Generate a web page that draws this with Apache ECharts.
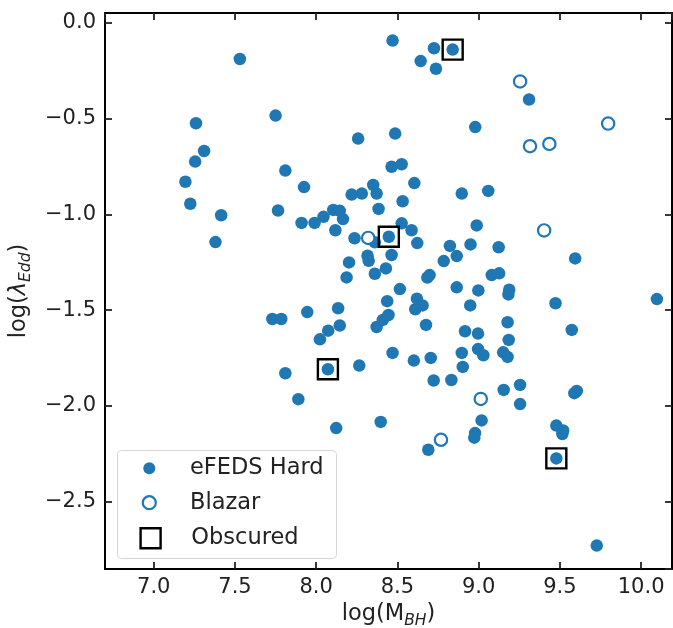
<!DOCTYPE html>
<html>
<head>
<meta charset="utf-8">
<title>eFEDS Hard: log(M_BH) vs log(lambda_Edd)</title>
<script src="https://cdn.jsdelivr.net/npm/echarts@6/dist/echarts.min.js"></script>
<style>
  html, body { margin: 0; padding: 0; background: #fff; }
  #main { width: 673px; height: 628px; }
</style>
</head>
<body>
<div id="main"></div>
<script>
// eFEDS Hard sample (filled circles)
const hardMass = [
  7.53, 7.26, 7.31, 7.255, 7.195, 7.225, 7.415, 7.38, 7.75, 7.81,
  7.765, 7.925, 7.91, 7.99, 8.045, 8.105, 8.145, 8.165, 8.118, 7.945,
  7.73, 7.785, 8.135, 8.074, 8.023, 8.145, 8.072, 7.81, 7.89, 8.123,
  8.265, 8.397, 8.47, 8.601, 8.372, 8.41, 8.445, 8.437, 8.61, 8.62,
  8.655, 8.218, 8.281, 8.351, 8.372, 8.384, 8.464, 8.526, 8.604, 8.532,
  8.526, 8.587, 8.622, 8.236, 8.361, 8.447, 8.464, 8.316, 8.323, 8.202,
  8.429, 8.361, 8.187, 8.515, 8.47, 8.725, 8.84, 8.643, 8.737, 9.31,
  8.979, 8.486, 8.258, 8.896, 9.059, 8.988, 8.823, 8.95, 9.123, 8.865,
  8.785, 9.594, 8.684, 8.698, 9.08, 9.126, 8.865, 8.998, 9.188, 9.183,
  10.097, 9.473, 8.948, 8.676, 8.916, 8.996, 9.178, 9.185, 9.573, 8.705,
  8.896, 8.996, 9.029, 9.151, 9.178, 8.902, 8.723, 8.832, 9.154, 9.255,
  9.255, 9.589, 9.604, 9.018, 8.978, 8.973, 8.69, 9.478, 9.52, 9.515,
  9.478, 9.727
];
const hardEdd = [
  -0.19, -0.525, -0.67, -0.725, -0.83, -0.945, -1.005, -1.145, -0.485, -0.772,
  -0.98, -0.858, -1.045, -1.045, -1.013, -0.977, -0.982, -1.025, -1.083, -1.51,
  -1.546, -1.546, -1.49, -1.607, -1.652, -1.58, -1.808, -1.829, -1.964, -2.115,
  -1.789, -2.083, -1.723, -1.763, -1.588, -1.551, -1.525, -1.453, -1.495, -1.44,
  -1.475, -0.897, -0.892, -0.847, -0.892, -0.972, -0.752, -0.739, -0.837, -0.932,
  -1.047, -1.083, -1.15, -1.125, -1.146, -1.117, -1.212, -1.216, -1.242, -1.251,
  -1.282, -1.31, -1.329, -1.39, -0.094, -0.134, -0.141, -0.201, -0.241, -0.401,
  -0.545, -0.579, -0.605, -0.892, -0.878, -1.058, -1.165, -1.157, -1.172, -1.218,
  -1.244, -1.23, -1.33, -1.317, -1.317, -1.308, -1.381, -1.397, -1.393, -1.418,
  -1.442, -1.464, -1.475, -1.577, -1.61, -1.622, -1.563, -1.655, -1.603, -1.749,
  -1.723, -1.703, -1.735, -1.72, -1.744, -1.796, -1.867, -1.864, -1.916, -1.89,
  -1.99, -1.933, -1.921, -2.075, -2.141, -2.165, -2.228, -2.102, -2.127, -2.146,
  -2.273, -2.728
];

// blazars (open circles)
const blazarMass = [9.255, 9.797, 9.316, 9.435, 8.32, 9.403, 9.013, 8.768];
const blazarEdd = [-0.307, -0.527, -0.645, -0.633, -1.123, -1.084, -1.963, -2.176];

// obscured sources (squares)
const obscuredMass = [8.84, 8.447, 8.072, 9.478];
const obscuredEdd = [-0.141, -1.117, -1.808, -2.273];

const xRange = [6.7, 10.19];
const yRange = [-2.85, 0.05];

const blue = '#1f77b4';
const ink = '#222';
const font = 'DejaVu Sans';

function pairs (xs, ys) {
  return xs.map((x, i) => [x, ys[i]]);
}

function tickLabel (v) {
  return (v < 0 ? '\u2212' : '') + Math.abs(v).toFixed(1);
}

const nameRich = {
  n: { fontSize: 22.5, fontFamily: font, color: ink, lineHeight: 26, verticalAlign: 'top', padding: [0, 0, 1, 0] },
  i: { fontSize: 22.5, fontFamily: font, fontStyle: 'italic', color: ink, lineHeight: 26, verticalAlign: 'top', padding: [0, 0, 1, 0] },
  s: { fontSize: 15.5, fontFamily: font, fontStyle: 'italic', color: ink, lineHeight: 17, verticalAlign: 'bottom' }
};

function axisBase (pos, showLabel) {
  return {
    type: 'value',
    position: pos,
    axisLine: { onZero: false, lineStyle: { color: '#000', width: 2 } },
    axisTick: { inside: true, length: 7, lineStyle: { color: ink, width: 1.8 } },
    axisLabel: {
      show: showLabel,
      showMinLabel: false,
      showMaxLabel: false,
      fontFamily: font,
      fontSize: 21,
      color: ink,
      formatter: tickLabel
    },
    splitLine: { show: false }
  };
}

const xBottom = Object.assign(axisBase('bottom', true), {
  min: xRange[0], max: xRange[1], splitNumber: 7,
  name: '{n|log(M}{s|BH}{n|)}',
  nameLocation: 'middle',
  nameGap: 33,
  nameTextStyle: { rich: nameRich }
});
xBottom.axisLabel.margin = 8;
const xTop = Object.assign(axisBase('top', false), { min: xRange[0], max: xRange[1], splitNumber: 7 });

const yLeft = Object.assign(axisBase('left', true), {
  min: yRange[0], max: yRange[1], splitNumber: 6,
  name: '{n|log(}{i|λ}{s|Edd}{n|)}',
  nameLocation: 'middle',
  nameGap: 68,
  nameRotate: 90,
  nameTextStyle: { rich: nameRich }
});
yLeft.axisLabel.margin = 9;
const yRight = Object.assign(axisBase('right', false), { min: yRange[0], max: yRange[1], splitNumber: 6 });

const legendText = { fontFamily: font, fontSize: 22.5, color: ink, lineHeight: 24 };

// legend is placed by its visible box, so left is the icon's left edge
function legendRow (name, left, top, icon, h, style) {
  return {
    data: [{ name: name, icon: icon, itemStyle: style }],
    left: left,
    top: top,
    padding: 0,
    itemWidth: 71.4,
    itemHeight: h,
    symbolKeepAspect: true,
    selectedMode: false,
    textStyle: legendText
  };
}

const option = {
  animation: false,
  grid: { left: 105, right: 1, top: 13, bottom: 59, containLabel: false, outerBoundsMode: 'none' },
  xAxis: [xBottom, xTop],
  yAxis: [yLeft, yRight],
  graphic: [{
    type: 'rect',
    z: 3,
    shape: { x: 117.5, y: 450.5, width: 219, height: 108, r: 4 },
    style: { fill: 'rgba(255,255,255,0.8)', stroke: '#d6d6d6', lineWidth: 1 }
  }],
  legend: [
    legendRow('eFEDS Hard', 143.3, 456.3, 'circle', 12, { color: blue, borderWidth: 0 }),
    legendRow('Blazar', 141.7, 490.7, 'circle', 13, { color: '#fff', borderColor: blue, borderWidth: 2.2 }),
    legendRow('Obscured', 138.1, 525.7, 'path://M0,0H10V10H0Z', 20, { color: 'none', borderColor: '#000', borderWidth: 2.4 })
  ],
  series: [
    {
      name: 'eFEDS Hard',
      type: 'scatter',
      z: 2,
      symbol: 'circle',
      symbolSize: 12.5,
      itemStyle: { color: blue, opacity: 1 },
      data: pairs(hardMass, hardEdd)
    },
    {
      name: 'Blazar',
      type: 'scatter',
      z: 3,
      symbol: 'circle',
      symbolSize: 12.3,
      itemStyle: { color: '#fff', borderColor: blue, borderWidth: 2.2, opacity: 1 },
      data: pairs(blazarMass, blazarEdd)
    },
    {
      name: 'Obscured',
      type: 'scatter',
      z: 4,
      symbol: 'rect',
      symbolSize: 20,
      itemStyle: { color: 'none', borderColor: '#000', borderWidth: 2.4, opacity: 1 },
      data: pairs(obscuredMass, obscuredEdd)
    }
  ]
};

const myChart = echarts.init(document.getElementById('main'), null, { renderer: 'canvas' });
myChart.setOption(option);
</script>
</body>
</html>
